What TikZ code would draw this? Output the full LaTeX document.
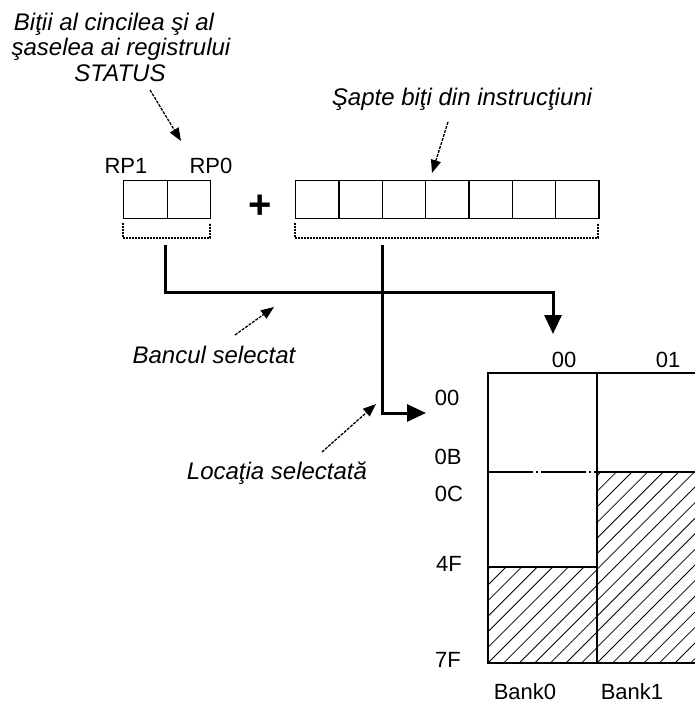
\documentclass[tikz,border=0pt]{standalone}
\usepackage{fontspec}
\setmainfont{Liberation Sans}
\usetikzlibrary{arrows.meta}
\begin{document}
\begin{tikzpicture}[x=1pt,y=-1pt,
  lbl/.style={inner sep=0pt,anchor=base,font=\fontsize{22}{24}\selectfont},
  ilbl/.style={inner sep=0pt,anchor=base,font=\fontsize{24}{26}\selectfont\itshape},
  cellbox/.style={draw,line width=1.4pt,minimum width=43.3pt,minimum height=38pt,inner sep=0pt,anchor=north west},
  bracket/.style={line width=1.1pt,dash pattern=on 2pt off 1pt},
  bus/.style={line width=3pt},
  bushead/.style={-{Triangle[length=19pt,width=17pt]}},
  annot/.style={line width=1.3pt,dash pattern=on 3pt off 1.2pt,-{Triangle[length=13pt,width=10pt]}},
  tline/.style={line width=1.4pt},
  hatch/.style={line width=0.8pt},
]
\useasboundingbox (0,0) rectangle (694,704);
\fill[white] (0,0) rectangle (694,704);

% annotation texts
\node[ilbl] (st1) at (114,30) {Biţii al cincilea şi al};
\node[ilbl] (st2) at (121,55) {şaselea ai registrului};
\node[ilbl] (st3) at (120,81) {STATUS};
\node[ilbl] (sapte) at (462,105) {Şapte biţi din instrucţiuni};
\node[ilbl] (bancul) at (214,363) {Bancul selectat};
\node[ilbl] (locatia) at (277,479) {Locaţia selectată};

% RP labels
\node[lbl] (rp1) at (126,173) {RP1};
\node[lbl] (rp0) at (211,173) {RP0};

% register boxes
\node[cellbox,minimum width=43.5pt] (b1) at (123,180) {};
\node[cellbox,minimum width=43.5pt] (b0) at (166.5,180) {};
\foreach \i in {0,...,6} {
  \node[cellbox] (i\i) at ({295+\i*43.3},180) {};
}

% plus
\node[inner sep=0pt,font=\fontsize{40}{40}\selectfont\bfseries] (plus) at (260,207) {+};

% dotted brackets
\draw[bracket] (123,223) -- (123,238) -- (210,238) -- (210,223);
\draw[bracket] (295,223) -- (295,238) -- (598,238) -- (598,223);

% coordinates
\coordinate (bankstart) at (165,245);
\coordinate (bankcorner) at (165,292);
\coordinate (bankturn) at (553,292);
\coordinate (banktip) at (553,334);
\coordinate (locstart) at (382,245);
\coordinate (loccorner) at (382,413);
\coordinate (loctip) at (426,413);

\coordinate (sttail) at (150,90);
\coordinate (sttip) at (181,141);
\coordinate (satail) at (448,122);
\coordinate (satip) at (432,173);
\coordinate (batail) at (235,335);
\coordinate (batip) at (274,307);
\coordinate (lotail) at (322,452);
\coordinate (lotip) at (376,404);

% buses
\draw[bus,bushead] (bankstart) -- (bankcorner) -- (bankturn) -- (banktip);
\draw[bus,bushead] (locstart) -- (loccorner) -- (loctip);

% annotation arrows
\draw[annot] (sttail) -- (sttip);
\draw[annot] (satail) -- (satip);
\draw[annot] (batail) -- (batip);
\draw[annot] (lotail) -- (lotip);

% memory table hatching
\begin{scope}
  \clip (488,567) rectangle (597,663);
  \foreach \k in {-8,...,8} \draw[hatch] ({488+\k*15.6},663) -- ++(130,-130);
\end{scope}
\begin{scope}
  \clip (597,472) rectangle (700,663);
  \foreach \k in {-14,...,8} \draw[hatch] ({597+\k*15.6},663) -- ++(220,-220);
\end{scope}

% memory table lines
\draw[tline] (700,373) -- (488,373) -- (488,663) -- (700,663);
\draw[tline] (597,373) -- (597,663);
\draw[tline] (488,567) -- (597,567);
\draw[tline] (597,472) -- (700,472);
\draw[tline,dash pattern=on 45pt off 3pt on 2pt off 3pt] (488,472) -- (597,472);

% table labels
\node[lbl] (c00) at (564,367) {00};
\node[lbl] (c01) at (668,367) {01};
\node[lbl] (r00) at (447,405) {00};
\node[lbl] (r0B) at (448,464) {0B};
\node[lbl] (r0C) at (449,501) {0C};
\node[lbl] (r4F) at (449,571) {4F};
\node[lbl] (r7F) at (448,667) {7F};
\node[lbl] (bank0) at (525,699) {Bank0};
\node[lbl] (bank1) at (632,699) {Bank1};
\end{tikzpicture}
\end{document}
